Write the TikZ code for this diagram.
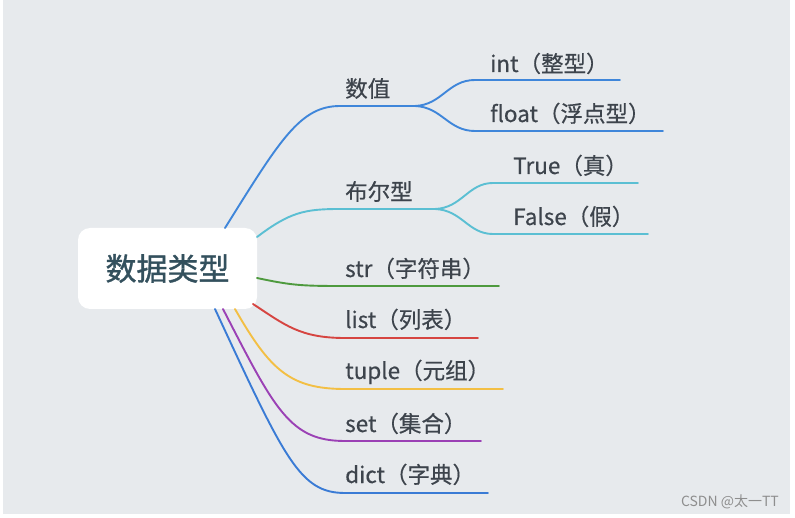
\documentclass[tikz,border=0pt]{standalone}
\usepackage{fontspec}
\setmainfont{Noto Sans CJK SC}
\newfontfamily\rootfont{Noto Sans CJK SC}[FakeBold=1.2]
\newfontfamily\lblfont{Noto Sans CJK SC}[FakeBold=0.5]
\definecolor{bggray}{HTML}{E7EAED}
\definecolor{txtgray}{HTML}{3D444C}
\definecolor{roottxt}{HTML}{33505D}
\definecolor{cnum}{HTML}{3F86DA}
\definecolor{cbool}{HTML}{5BBFD3}
\definecolor{cstr}{HTML}{4E9A3E}
\definecolor{clist}{HTML}{D64541}
\definecolor{ctuple}{HTML}{F3BF44}
\definecolor{cset}{HTML}{9B41B5}
\definecolor{cdict}{HTML}{3A7BD5}
\definecolor{wmgray}{HTML}{8E8E8E}
\tikzset{
  rootbox/.style={fill=white, rounded corners=12pt, minimum width=179pt, minimum height=81pt,
    inner sep=0pt, text=roottxt, font=\rootfont\fontsize{31}{36}\selectfont},
  lbl/.style={anchor=base west, inner sep=0pt, text=txtgray, font=\lblfont\fontsize{22.5}{26}\selectfont},
  branch/.style={line width=1.9pt, line cap=round},
}
\begin{document}
\begin{tikzpicture}[x=1pt,y=-1pt]
\useasboundingbox (0,0) rectangle (795,518);
\fill[white] (0,0) rectangle (795,518);
\fill[bggray] (3,0) rectangle (790,514);

\node[rootbox] (root) at (167.5,268.5) {数据类型};

% labels
\node[lbl] (num) at (345,97) {数值};
\node[lbl] (int) at (490,72) {int（整型）};
\node[lbl] (float) at (490,122) {float（浮点型）};
\node[lbl] (bool) at (345,200) {布尔型};
\node[lbl] (true) at (513,174) {True（真）};
\node[lbl] (false) at (513,225) {False（假）};
\node[lbl] (str) at (345,277) {str（字符串）};
\node[lbl] (list) at (345,328) {list（列表）};
\node[lbl] (tuple) at (345,379) {tuple（元组）};
\node[lbl] (set) at (345,432) {set（集合）};
\node[lbl] (dict) at (345,483) {dict（字典）};

% coordinates
\coordinate (snum) at (225,228);
\coordinate (fnum) at (415,106);
\coordinate (eint) at (620,80);
\coordinate (efloat) at (663,131);
\coordinate (sbool) at (257,237);
\coordinate (fbool) at (435,209);
\coordinate (etrue) at (638,183);
\coordinate (efalse) at (648,234);
\coordinate (sstr) at (257,278);
\coordinate (estr) at (499,286);
\coordinate (slist) at (253,304);
\coordinate (elist) at (478,338);
\coordinate (stuple) at (235,309);
\coordinate (etuple) at (503,389);
\coordinate (sset) at (223,309);
\coordinate (eset) at (481,441);
\coordinate (sdict) at (215,309);
\coordinate (edict) at (488,493);

% connectors
\draw[branch, cnum] (snum) .. controls (280,140) and (300,106) .. (340,106) -- (fnum);
\draw[branch, cnum] (fnum) .. controls (442,105) and (448,80) .. (475,80) -- (eint);
\draw[branch, cnum] (fnum) .. controls (442,107) and (448,131) .. (475,131) -- (efloat);
\draw[branch, cbool] (sbool) .. controls (290,212) and (305,209) .. (340,209) -- (fbool);
\draw[branch, cbool] (fbool) .. controls (462,208) and (468,183) .. (493,183) -- (etrue);
\draw[branch, cbool] (fbool) .. controls (462,210) and (468,234) .. (493,234) -- (efalse);
\draw[branch, cstr] (sstr) .. controls (290,285) and (300,286) .. (340,286) -- (estr);
\draw[branch, clist] (slist) .. controls (285,325) and (300,338) .. (345,338) -- (elist);
\draw[branch, ctuple] (stuple) .. controls (270,370) and (290,389) .. (345,389) -- (etuple);
\draw[branch, cset] (sset) .. controls (275,410) and (290,441) .. (345,441) -- (eset);
\draw[branch, cdict] (sdict) .. controls (285,460) and (300,493) .. (345,493) -- (edict);

% watermark
\node[anchor=base east, inner sep=0pt, text=wmgray, font=\fontsize{14}{16}\selectfont] (wm) at (779,506.5) {CSDN @太一TT};
\end{tikzpicture}
\end{document}
